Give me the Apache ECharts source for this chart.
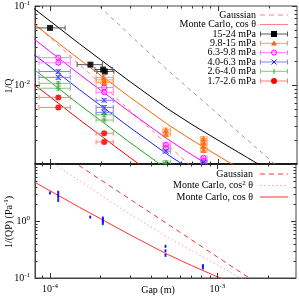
<!DOCTYPE html>
<html><head><meta charset="utf-8">
<script src="https://cdn.jsdelivr.net/npm/echarts@6/dist/echarts.min.js"></script>
<style>html,body{margin:0;padding:0;background:#fff}#c{width:299px;height:299px}</style>
</head><body><div id="c"></div>
<script>
// ---------- data ----------
const gapCurve = [8e-5,1e-4,1.5e-4,2e-4,3e-4,5e-4,7e-4,1e-3,1.5e-3,2e-3,3e-3];
// top panel Monte Carlo cos(theta) curves, 1/Q
const mc15_24  = [0.0933,0.0646,0.0331,0.0209,0.0110,0.00501,0.00316,0.00200,0.00120,0.00083,0.00050];
const mc9_8_15 = [0.0593,0.0410,0.0210,0.0133,0.00697,0.00318,0.00201,0.00127,0.00076,0.00053,0.00032];
const mc6_3_9_8= [0.0385,0.0266,0.0136,0.0086,0.00452,0.00207,0.00130,0.00082,0.00049,0.00034,0.00021];
const mc4_0_6_3= [0.0245,0.0170,0.0087,0.0055,0.00288,0.00132,0.00083,0.00052,0.00032,0.00022,0.00013];
const mc2_6_4_0= [0.0158,0.0110,0.0056,0.00355,0.00186,0.00085,0.00054,0.00034,0.00020,0.00014,0.000083];
const mc1_7_2_6= [0.0102,0.0071,0.00363,0.00229,0.00120,0.00055,0.00035,0.00022,0.00013,0.00009,0.000054];
// top panel Gaussian curves
const gaussTopGrey = [0.544,0.356,0.166,0.0955,0.0427,0.0155,0.0083,0.00427,0.0020,0.00117,0.00054];
const gaussTopRed  = [0.0617,0.0398,0.0181,0.0104,0.00472,0.00175,0.00091,0.00046,0.00019,0.00011,0.00005];
// bottom panel curves, 1/(QP)
const gaussBottom = [31.6,20.4,9.3,5.3,2.42,0.90,0.468,0.234,0.107,0.0615,0.0278];
const mcCos2      = [17.4,11.2,5.1,2.91,1.32,0.525,0.303,0.169,0.0873,0.055,0.028];
const mcCos       = [4.9,3.39,1.74,1.10,0.575,0.263,0.166,0.105,0.063,0.0437,0.0263];

// measured points (top panel): gap, 1/Q, gap range, 1/Q range
const gapA = [1.0e-4,1.74e-4,2.07e-4,2.12e-4];
const invA = [0.0528,0.0181,0.0157,0.0148];
const gLoA = [8.2e-5,1.45e-4,1.85e-4,1.9e-4];
const gHiA = [1.23e-4,2.05e-4,2.35e-4,2.4e-4];
const vLoA = [0.0500,0.0172,0.0150,0.0141];
const vHiA = [0.0556,0.0190,0.0164,0.0155];

const gapB = [2.08e-4,2.1e-4,2.1e-4,4.9e-4,4.9e-4,8.2e-4,8.2e-4,8.2e-4,8.2e-4];
const invB = [0.0125,0.0116,0.0108,0.0027,0.0024,0.0021,0.0019,0.0017,0.0015];
const gLoB = [1.88e-4,1.88e-4,1.88e-4,4.7e-4,4.7e-4,7.9e-4,7.9e-4,7.9e-4,7.9e-4];
const gHiB = [2.38e-4,2.38e-4,2.38e-4,5.2e-4,5.2e-4,8.6e-4,8.6e-4,8.6e-4,8.6e-4];
const vLoB = [0.0118,0.0110,0.0102,0.00255,0.00227,0.00199,0.0018,0.00161,0.00142];
const vHiB = [0.0132,0.0122,0.0114,0.00285,0.00253,0.00221,0.0020,0.00179,0.00158];

const gapC = [1.12e-4,1.12e-4,2.1e-4,2.1e-4,4.9e-4,4.9e-4,8.2e-4,8.2e-4];
const invC = [0.0222,0.0191,0.0093,0.0081,0.00175,0.0016,0.0012,0.0011];
const gLoC = [8.6e-5,8.6e-5,1.88e-4,1.88e-4,4.7e-4,4.7e-4,7.9e-4,7.9e-4];
const gHiC = [1.32e-4,1.32e-4,2.38e-4,2.38e-4,5.2e-4,5.2e-4,8.6e-4,8.6e-4];
const vLoC = [0.0210,0.0181,0.0088,0.0077,0.00166,0.00152,0.00114,0.00104];
const vHiC = [0.0234,0.0201,0.0098,0.0085,0.00184,0.00168,0.00126,0.00116];

const gapD = [1.12e-4,1.12e-4,2.1e-4,2.1e-4,2.1e-4,4.9e-4,8.2e-4];
const invD = [0.0148,0.0125,0.0064,0.0052,0.0045,0.00145,0.00105];
const gLoD = [8.6e-5,8.6e-5,1.88e-4,1.88e-4,1.88e-4,4.7e-4,7.9e-4];
const gHiD = [1.32e-4,1.32e-4,2.38e-4,2.38e-4,2.38e-4,5.2e-4,8.6e-4];
const vLoD = [0.0140,0.0118,0.0061,0.0049,0.0043,0.00138,0.00100];
const vHiD = [0.0156,0.0132,0.0067,0.0055,0.0047,0.00152,0.00110];

const gapE = [1.12e-4,1.12e-4,2.1e-4,2.1e-4,4.9e-4];
const invE = [0.0105,0.0091,0.0042,0.0036,0.00105];
const gLoE = [8.6e-5,8.6e-5,1.88e-4,1.88e-4,4.7e-4];
const gHiE = [1.32e-4,1.32e-4,2.38e-4,2.38e-4,5.2e-4];
const vLoE = [0.0100,0.0086,0.0040,0.0034,0.00100];
const vHiE = [0.0110,0.0096,0.0044,0.0038,0.00110];

const gapF = [1.12e-4,1.12e-4,2.1e-4,2.1e-4];
const invF = [0.00697,0.0052,0.00245,0.0019];
const gLoF = [8.6e-5,8.6e-5,1.88e-4,1.88e-4];
const gHiF = [1.32e-4,1.32e-4,2.38e-4,2.38e-4];
const vLoF = [0.0066,0.0049,0.00233,0.0018];
const vHiF = [0.0073,0.0055,0.00257,0.0020];

// bottom panel points, 1/(QP)
const gapQP = [1.0e-4,1.12e-4,1.12e-4,1.12e-4,1.12e-4,1.74e-4,2.07e-4,2.07e-4,2.07e-4,2.07e-4,4.9e-4,4.9e-4,4.9e-4,8.2e-4,8.2e-4];
const invQP = [3.1,3.2,2.9,2.6,2.3,1.17,1.13,1.05,0.98,0.9,0.36,0.3,0.25,0.165,0.15];
const loQP  = [3.0,3.1,2.8,2.5,2.2,1.13,1.09,1.01,0.95,0.87,0.345,0.29,0.24,0.158,0.144];
const hiQP  = [3.2,3.3,3.0,2.7,2.4,1.21,1.17,1.09,1.01,0.93,0.375,0.31,0.26,0.172,0.156];

const legendTop = ['Gaussian','Monte Carlo, cos θ','15-24 mPa','9.8-15 mPa','6.3-9.8 mPa','4.0-6.3 mPa','2.6-4.0 mPa','1.7-2.6 mPa'];
const legendBottom = ['Gaussian','Monte Carlo, cos{s|2} θ','Monte Carlo, cos θ'];

const gapTickMajor = [1e-4,1e-3];
const gapTickMinor = [9e-5,2e-4,3e-4,4e-4,5e-4,6e-4,7e-4,8e-4,9e-4,2e-3];
const qTickMajor = [1e-3,1e-2,1e-1];
const qTickMinor = [2e-3,3e-3,4e-3,5e-3,6e-3,7e-3,8e-3,9e-3,2e-2,3e-2,4e-2,5e-2,6e-2,7e-2,8e-2,9e-2];
const qpTickMajor = [0.1,1,10];
const qpTickMinor = [0.2,0.3,0.4,0.5,0.6,0.7,0.8,0.9,2,3,4,5,6,7,8,9];

// ---------- chart ----------
const FONT = 'Liberation Serif';
const chart = echarts.init(document.getElementById('c'), null, {renderer:'canvas'});

function curve(vals, xi, color, type, width, z) {
  return {type:'line', xAxisIndex:xi, yAxisIndex:xi, data: gapCurve.map((g,i)=>[g, vals[i]]),
    showSymbol:false, symbol:'none', clip:true, silent:true, z: z||2,
    lineStyle:{color, width: width||1, type: type||'solid'}};
}
function errBars(gaps, inv, gLo, gHi, vLo, vHi, color, xi, capK) {
  return {type:'custom', xAxisIndex:xi, yAxisIndex:xi, silent:true, z:3, clip:true,
    data: gaps.map((g,i)=>[g, inv[i], gLo ? gLo[i] : g, gHi ? gHi[i] : g, vLo[i], vHi[i]]),
    renderItem(params, api) {
      const c = api.coord([api.value(0), api.value(1)]);
      const l = api.coord([api.value(2), api.value(1)]);
      const r = api.coord([api.value(3), api.value(1)]);
      const lo = api.coord([api.value(0), api.value(4)]);
      const hi = api.coord([api.value(0), api.value(5)]);
      const st = {stroke: color, lineWidth: 1};
      const k = capK == null ? 2.5 : capK, ch = [];
      if (r[0] - l[0] > 1) {
        ch.push({type:'line', shape:{x1:l[0],y1:c[1],x2:r[0],y2:c[1]}, style:st});
        ch.push({type:'line', shape:{x1:l[0],y1:c[1]-k,x2:l[0],y2:c[1]+k}, style:st});
        ch.push({type:'line', shape:{x1:r[0],y1:c[1]-k,x2:r[0],y2:c[1]+k}, style:st});
      }
      ch.push({type:'line', shape:{x1:c[0],y1:lo[1],x2:c[0],y2:hi[1]}, style:st});
      if (k > 0) {
        ch.push({type:'line', shape:{x1:c[0]-k,y1:lo[1],x2:c[0]+k,y2:lo[1]}, style:st});
        ch.push({type:'line', shape:{x1:c[0]-k,y1:hi[1],x2:c[0]+k,y2:hi[1]}, style:st});
      }
      return {type:'group', children:ch};
    }};
}
function marks(gaps, inv, symbol, size, itemStyle, xi) {
  return {type:'scatter', xAxisIndex:xi, yAxisIndex:xi, silent:true, z:4, clip:true,
    data: gaps.map((g,i)=>[g, inv[i]]), symbol, symbolSize:size, itemStyle};
}
function ticks(vals, major, isX, gi, ref) {
  return {type:'custom', xAxisIndex:gi, yAxisIndex:gi, silent:true, z:5, clip:false,
    data: vals.map(v => isX ? [v, ref] : [ref, v]),
    renderItem(params, api) {
      const cs = params.coordSys;
      const p = api.coord([api.value(0), api.value(1)]);
      const len = major ? 5 : 2.5;
      const st = {stroke:'#333', lineWidth:1};
      if (isX) {
        const x = Math.round(p[0]) + 0.5;
        return {type:'group', children:[
          {type:'line', shape:{x1:x,y1:cs.y+cs.height,x2:x,y2:cs.y+cs.height-len}, style:st},
          {type:'line', shape:{x1:x,y1:cs.y,x2:x,y2:cs.y+len}, style:st}]};
      }
      const y = Math.round(p[1]) + 0.5;
      return {type:'group', children:[
        {type:'line', shape:{x1:cs.x,y1:y,x2:cs.x+len,y2:y}, style:st},
        {type:'line', shape:{x1:cs.x+cs.width,y1:y,x2:cs.x+cs.width-len,y2:y}, style:st}]};
    }};
}
function powLabel(hide) {
  return {
    formatter: v => {
      const e = Math.log10(v), r = Math.round(e);
      if (Math.abs(e - r) > 0.01 || hide.includes(r)) return '';
      return '{b|10}{s|' + r + '}';
    },
    rich: {
      b:{fontFamily:FONT, fontSize:10, color:'#000'},
      s:{fontFamily:FONT, fontSize:7, color:'#000', verticalAlign:'top', padding:[0,0,5,0]}
    }
  };
}

const C = {black:'#000000', orange:'#ff6600', magenta:'#ff00ff', blue:'#2020ff', green:'#22aa22', red:'#ff0000'};
const CE = {black:'#555555', orange:'#ff9a66', magenta:'#ff80ff', blue:'#8080ff', green:'#80c880', red:'#ff8080'};

const series = [
  curve(gaussTopGrey, 0, '#999999', [4,4], 1),
  curve(gaussTopRed, 0, '#ff8080', [4,4], 1),
  curve(mc15_24, 0, C.black),
  curve(mc9_8_15, 0, C.orange),
  curve(mc6_3_9_8, 0, C.magenta),
  curve(mc4_0_6_3, 0, C.blue),
  curve(mc2_6_4_0, 0, C.green),
  curve(mc1_7_2_6, 0, C.red),
  errBars(gapA, invA, gLoA, gHiA, vLoA, vHiA, CE.black, 0),
  errBars(gapB, invB, gLoB, gHiB, vLoB, vHiB, CE.orange, 0),
  errBars(gapC, invC, gLoC, gHiC, vLoC, vHiC, CE.magenta, 0),
  errBars(gapD, invD, gLoD, gHiD, vLoD, vHiD, CE.blue, 0),
  errBars(gapE, invE, gLoE, gHiE, vLoE, vHiE, CE.green, 0),
  errBars(gapF, invF, gLoF, gHiF, vLoF, vHiF, CE.red, 0),
  marks(gapA, invA, 'rect', 6, {color:C.black}, 0),
  marks(gapB, invB, 'triangle', 6, {color:C.orange}, 0),
  marks(gapC, invC, 'circle', 5, {color:'transparent', borderColor:C.magenta, borderWidth:1}, 0),
  marks(gapD, invD, 'path://M0,0L10,10M10,0L0,10', 5, {color:'transparent', borderColor:C.blue, borderWidth:1}, 0),
  marks(gapE, invE, 'path://M5,0L5,10M0,5L10,5', 5, {color:'transparent', borderColor:C.green, borderWidth:1}, 0),
  marks(gapF, invF, 'circle', 6, {color:C.red}, 0),
  curve(gaussBottom, 1, '#ff3030', [5,4], 1),
  curve(mcCos2, 1, '#ffa0a0', [1.5,2.5], 1),
  curve(mcCos, 1, '#ff3030', 'solid', 1),
  errBars(gapQP, invQP, null, null, loQP, hiQP, '#3030ff', 1, 0),
  marks(gapQP, invQP, 'rect', [2,3], {color:'#0000ff'}, 1),
  ticks(gapTickMajor, true, true, 0, 0.01), ticks(gapTickMinor, false, true, 0, 0.01),
  ticks(gapTickMajor, true, true, 1, 1), ticks(gapTickMinor, false, true, 1, 1),
  ticks(qTickMajor, true, false, 0, 2e-4), ticks(qTickMinor, false, false, 0, 2e-4),
  ticks(qpTickMajor, true, false, 1, 2e-4), ticks(qpTickMinor, false, false, 1, 2e-4)
];

// legend graphics
const g = [];
const txt = (x, y, text, extra) => ({type:'text', x, y, silent:true,
  style:Object.assign({text, fontFamily:FONT, fontSize:10, fill:'#000', textAlign:'right', textVerticalAlign:'middle'}, extra||{})});
const ln = (x1, y, x2, color, dash) => ({type:'line', silent:true, shape:{x1, y1:y, x2, y2:y}, style:{stroke:color, lineWidth:1, lineDash:dash||null}});
const topRows = [15,24.5,34,43.3,52.6,62,71.3,81];
const lx1 = 260, lx2 = 288, lxm = 274;
legendTop.forEach((t,i) => g.push(txt(256, topRows[i], t)));
g.push(ln(lx1, topRows[0], lx2, '#ff8080', [5,4]));
g.push(ln(lx1, topRows[1], lx2, '#ff8080'));
const legCols = ['black','orange','magenta','blue','green','red'];
legCols.forEach((k,i) => {
  const y = topRows[i+2];
  g.push(ln(lx1, y, lx2, CE[k]));
  g.push({type:'line', silent:true, shape:{x1:lx1+0.5,y1:y-2.5,x2:lx1+0.5,y2:y+2.5}, style:{stroke:CE[k], lineWidth:1}});
  g.push({type:'line', silent:true, shape:{x1:lx2-0.5,y1:y-2.5,x2:lx2-0.5,y2:y+2.5}, style:{stroke:CE[k], lineWidth:1}});
});
const legSym = [
  {type:'rect', shape:{x:lxm-3,y:topRows[2]-3,width:6,height:6}, style:{fill:C.black}},
  {type:'polygon', shape:{points:[[lxm,topRows[3]-3],[lxm+3,topRows[3]+2.2],[lxm-3,topRows[3]+2.2]]}, style:{fill:C.orange}},
  {type:'circle', shape:{cx:lxm,cy:topRows[4],r:2.5}, style:{fill:'none', stroke:C.magenta, lineWidth:1}},
  {type:'polyline', shape:{points:[[lxm-2.5,topRows[5]-2.5],[lxm+2.5,topRows[5]+2.5]]}, style:{stroke:C.blue, lineWidth:1}},
  {type:'polyline', shape:{points:[[lxm+2.5,topRows[5]-2.5],[lxm-2.5,topRows[5]+2.5]]}, style:{stroke:C.blue, lineWidth:1}},
  {type:'polyline', shape:{points:[[lxm,topRows[6]-2.5],[lxm,topRows[6]+2.5]]}, style:{stroke:C.green, lineWidth:1}},
  {type:'circle', shape:{cx:lxm,cy:topRows[7],r:3}, style:{fill:C.red}}
];
legSym.forEach(s => { s.silent = true; g.push(s); });

const botRows = [174,185.5,197];
g.push(txt(253, botRows[0], legendBottom[0]));
g.push({type:'text', x:253, y:botRows[1], silent:true, style:{text:legendBottom[1], fontFamily:FONT, fontSize:10, fill:'#000', textAlign:'right', textVerticalAlign:'middle',
  rich:{s:{fontFamily:FONT, fontSize:7, verticalAlign:'top', padding:[0,0,5,0]}}}});
g.push(txt(253, botRows[2], legendBottom[2]));
g.push(ln(lx1, botRows[0], lx2, '#ff3030', [5,4]));
g.push(ln(lx1, botRows[1], lx2, '#ffa0a0', [1.5,2.5]));
g.push(ln(lx1, botRows[2], lx2, '#ff3030'));

// axis titles
g.push({type:'text', x:9, y:86, rotation:Math.PI/2, silent:true,
  style:{text:'1/Q', fontFamily:FONT, fontSize:10, fill:'#000', textAlign:'center', textVerticalAlign:'middle'}});
g.push({type:'text', x:9, y:222, rotation:Math.PI/2, silent:true,
  style:{text:'1/(QP) (Pa{s|-1})', fontFamily:FONT, fontSize:10, fill:'#000', textAlign:'center', textVerticalAlign:'middle',
    rich:{s:{fontFamily:FONT, fontSize:7, verticalAlign:'top', padding:[0,0,5,0]}}}});
g.push({type:'text', x:158, y:290, silent:true,
  style:{text:'Gap (m)', fontFamily:FONT, fontSize:10, fill:'#000', textAlign:'center', textVerticalAlign:'middle'}});

const gapMin = 8.14e-5, gapMax = 2.95e-3;
chart.setOption({
  animation:false,
  backgroundColor:'#fff',
  grid:[
    {left:35, top:5, width:262, height:159, show:true, borderColor:'#444', borderWidth:1},
    {left:35, top:164, width:262, height:114, show:true, borderColor:'#444', borderWidth:1}
  ],
  xAxis:[
    {type:'log', gridIndex:0, min:gapMin, max:gapMax, axisLabel:{show:false}, axisTick:{show:false}, splitLine:{show:false}, minorTick:{show:false},
      axisLine:{show:true, lineStyle:{color:'#000', width:1.5}}},
    {type:'log', gridIndex:1, min:gapMin, max:gapMax, axisTick:{show:false}, splitLine:{show:false},
      axisLine:{show:true, lineStyle:{color:'#444', width:1}},
      axisLabel:Object.assign({margin:5}, powLabel([]))}
  ],
  yAxis:[
    {type:'log', gridIndex:0, min:1e-3, max:1e-1, axisTick:{show:false}, splitLine:{show:false},
      axisLine:{show:true, lineStyle:{color:'#444', width:1}},
      axisLabel:Object.assign({margin:5}, powLabel([-3]))},
    {type:'log', gridIndex:1, min:0.1, max:10, axisTick:{show:false}, splitLine:{show:false},
      axisLine:{show:true, lineStyle:{color:'#444', width:1}},
      axisLabel:Object.assign({margin:5}, powLabel([1]))}
  ],
  series,
  graphic: g
});
</script>
</body></html>
